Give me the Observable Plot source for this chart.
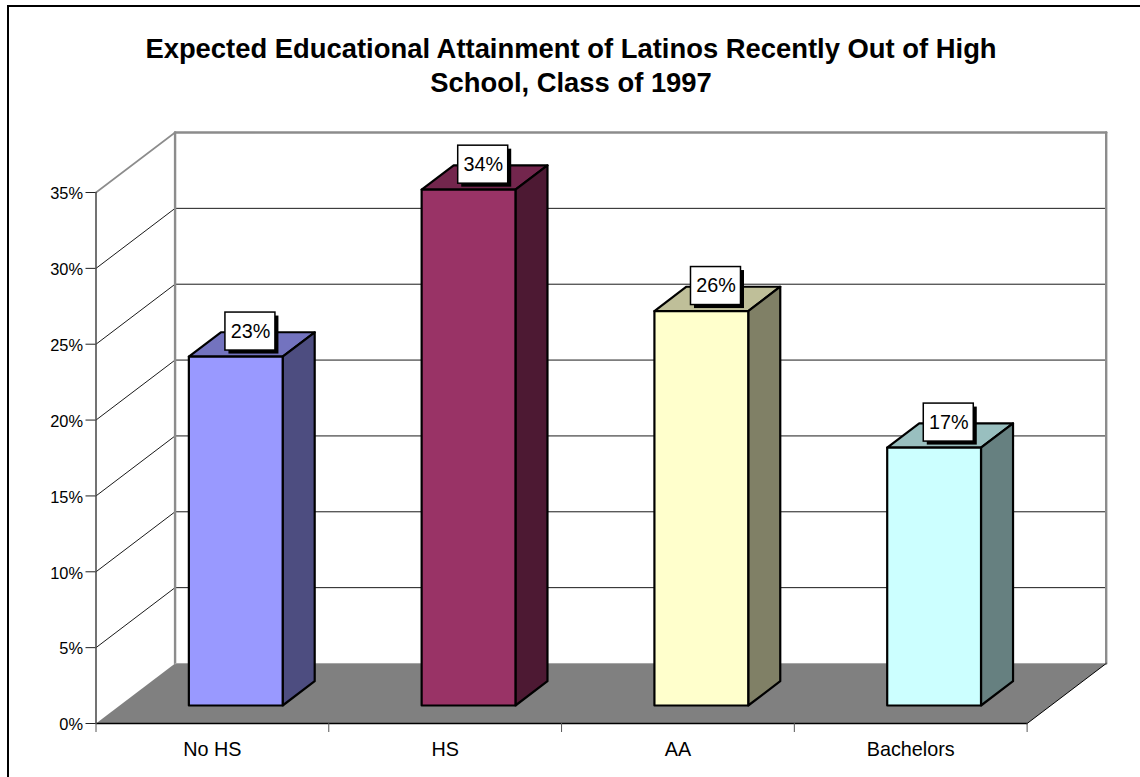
<!DOCTYPE html>
<html>
<head>
<meta charset="utf-8">
<script src="https://cdn.jsdelivr.net/npm/d3@7"></script>
<script src="https://cdn.jsdelivr.net/npm/@observablehq/plot@0.6"></script>
<style>
  html, body { margin: 0; padding: 0; background: #fff; overflow: hidden; }
  body { width: 1140px; height: 777px; position: relative; font-family: "Liberation Sans", Arial, sans-serif; }
  #frame { position: absolute; left: 7px; top: 5px; width: 1140px; height: 790px; border: 2px solid #000; box-sizing: border-box; }
  #title { position: relative; height: 110px; box-sizing: border-box; padding-top: 32px; text-align: center; font-weight: bold; font-size: 27.4px; line-height: 34px; color: #000; margin-left: 2px; }
  svg { display: block; }
</style>
</head>
<body>
<div id="frame"></div>
<div id="title">Expected Educational Attainment of Latinos Recently Out of High<br>School, Class of 1997</div>
<div id="chart"></div>
<script>
// Chart content
const categories = ["No HS", "HS", "AA", "Bachelors"];
const percents = [23, 34, 26, 17];
const frontColors = ["#9999ff", "#993366", "#ffffcc", "#ccffff"];
const topColors = ["#7373bf", "#73264d", "#bfbf99", "#99bfbf"];
const sideColors = ["#4d4d80", "#4d1933", "#808066", "#668080"];
const yTicks = [0, 5, 10, 15, 20, 25, 30, 35];
const xBoundaries = [0, 1, 2, 3, 4];

// Oblique projection: one unit of depth shifts a point this far along x and y
const depthX = 0.3397;
const depthY = 3.955;
const yMax = 35;
const project = (cat, val, depth) => ({x: cat + depth * depthX, y: val + depth * depthY});

// A closed polygon through the given [category, value, depth] corners
const face = (corners, options) =>
  Plot.line(corners.map((c) => project(...c)), {x: "x", y: "y", curve: "linear-closed", ...options});

const segment = (a, b, options) =>
  Plot.line([project(...a), project(...b)], {x: "x", y: "y", ...options});

// Bar footprint within its category slot, in category and depth units
const barStart = 0.297, barEnd = 0.700, depthFront = 0.3, depthBack = 0.705;

const barMarks = categories.flatMap((_, i) => {
  const l = i + barStart, r = i + barEnd, v = percents[i];
  const edge = {stroke: "#000", strokeWidth: 2.2, strokeLinejoin: "round"};
  return [
    face([[l, v, depthFront], [r, v, depthFront], [r, v, depthBack], [l, v, depthBack]], {fill: topColors[i], ...edge}),
    face([[r, 0, depthFront], [r, 0, depthBack], [r, v, depthBack], [r, v, depthFront]], {fill: sideColors[i], ...edge}),
    face([[l, 0, depthFront], [r, 0, depthFront], [r, v, depthFront], [l, v, depthFront]], {fill: frontColors[i], ...edge})
  ];
});

// Value tags sit above the centre of each bar's top face
const tags = categories.map((_, i) => ({...project(i + 0.5, percents[i], 0.5), text: percents[i] + "%"}));
const tagBox = {x1: "x", x2: "x", y1: "y", y2: "y", insetLeft: -26.5, insetRight: -23.5, insetTop: -32, insetBottom: -6};

const wall = {stroke: "#8c8c8c", strokeWidth: 2.4};
const last = xBoundaries[xBoundaries.length - 1];

const plot = Plot.plot({
  width: 1140,
  height: 667,
  marginLeft: 95.5,
  marginRight: 34.3,
  marginTop: 22,
  marginBottom: 54,
  style: {fontFamily: "'Liberation Sans', Arial, sans-serif", background: "transparent", overflow: "visible"},
  x: {domain: [0, last + depthX], axis: null},
  y: {domain: [0, yMax + depthY], axis: null},
  marks: [
    // Floor
    face([[0, 0, 0], [last, 0, 0], [last, 0, 1], [0, 0, 1]], {fill: "#808080", stroke: "none"}),
    // Gridlines along the back wall and the left wall
    ...yTicks.filter((t) => t > 0 && t < yMax).flatMap((t) => [
      segment([0, t, 1], [last, t, 1], {stroke: "#1a1a1a", strokeWidth: 1}),
      segment([0, t, 0], [0, t, 1], {stroke: "#1a1a1a", strokeWidth: 1})
    ]),
    // Wall outlines
    segment([0, yMax, 0], [0, yMax, 1], {stroke: "#8c8c8c", strokeWidth: 1.6}),
    segment([0, yMax, 1], [last, yMax, 1], wall),
    segment([0, 0, 1], [0, yMax, 1], wall),
    segment([last, 0, 1], [last, yMax, 1], wall),
    segment([0, 0, 1], [last, 0, 1], {stroke: "#a6a6a6", strokeWidth: 1}),
    // Floor front and right edges
    segment([0, 0, 0], [last, 0, 0], {stroke: "#000", strokeWidth: 1.5}),
    segment([last, 0, 0], [last, 0, 1], {stroke: "#000", strokeWidth: 1}),
    // Axes
    Plot.axisY({anchor: "left", ticks: yTicks, tickSize: 10, tickFormat: () => "", stroke: "#222", label: null}),
    Plot.axisY({
      anchor: "left", ticks: yTicks, tickSize: 0, tickPadding: 13, fontSize: 16.4, label: null,
      tickFormat: (d) => d + "%", fill: "#000", dy: 1.5
    }),
    segment([0, 0, 0], [0, yMax, 0], {stroke: "#444", strokeWidth: 1.5}),
    Plot.axisX({anchor: "bottom", ticks: xBoundaries, tickSize: 9, tickFormat: () => "", stroke: "#555", label: null}),
    Plot.axisX({
      anchor: "bottom", ticks: categories.map((_, i) => i + 0.5), tickSize: 0, tickPadding: 18,
      fontSize: 19.8, label: null, fill: "#000", tickFormat: (d) => categories[d - 0.5]
    }),
    // Bars
    ...barMarks,
    // Value tags with a drop shadow
    Plot.rect(tags, {...tagBox, fill: "#000", dx: 3.5, dy: 3.5}),
    Plot.rect(tags, {...tagBox, fill: "#fff", stroke: "#000", strokeWidth: 1.5}),
    Plot.text(tags, {x: "x", y: "y", text: "text", fontSize: 19.8, fill: "#000", dx: -1.5, dy: -13})
  ]
});
document.getElementById("chart").append(plot);
</script>
</body>
</html>
